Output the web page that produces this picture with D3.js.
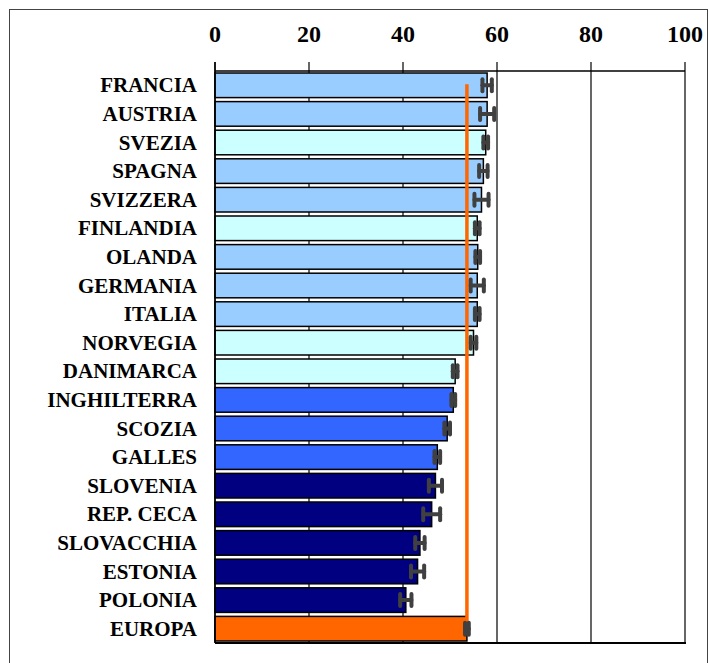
<!DOCTYPE html>
<html>
<head>
<meta charset="utf-8">
<script src="https://cdn.jsdelivr.net/npm/d3@7"></script>
<style>
  html, body { margin: 0; padding: 0; background: #fff; }
  svg { display: block; }
</style>
</head>
<body>
<svg id="chart" width="709" height="663"></svg>
<script>
const categories = ["FRANCIA","AUSTRIA","SVEZIA","SPAGNA","SVIZZERA","FINLANDIA","OLANDA","GERMANIA","ITALIA","NORVEGIA","DANIMARCA","INGHILTERRA","SCOZIA","GALLES","SLOVENIA","REP. CECA","SLOVACCHIA","ESTONIA","POLONIA","EUROPA"];
const values = [57.9,57.9,57.6,57.1,56.7,55.8,55.9,55.8,55.8,55.0,51.1,50.7,49.4,47.3,46.9,46.1,43.6,43.1,40.6,53.6];
const errors = [1.0,1.5,0.5,0.9,1.5,0.5,0.5,1.4,0.5,0.6,0.5,0.4,0.6,0.6,1.4,1.8,1.0,1.4,1.2,0.4];
const groups = ["a","a","b","a","a","b","a","a","a","b","b","c","c","c","d","d","d","d","d","e"];
const groupColors = {a:"#99CCFF", b:"#CCFFFF", c:"#3366FF", d:"#000080", e:"#FF6600"};
const tickValues = [0,20,40,60,80,100];
const europeValue = values[categories.indexOf("EUROPA")];

(function(){
const svg = d3.select("#chart");
const pLeft = 215, pRight = 685, pTop = 71, pBottom = 643;

// outer frame
svg.append("rect").attr("x",9.5).attr("y",9.5).attr("width",698).attr("height",680)
  .attr("fill","none").attr("stroke","#444").attr("stroke-width",1);

const x = d3.scaleLinear().domain([0,100]).range([pLeft,pRight]);
const y = d3.scaleBand().domain(categories).range([pTop,pBottom]).paddingInner(0.14).paddingOuter(0.07);

// gridlines
svg.append("g").selectAll("line").data(tickValues).join("line")
  .attr("x1",d=>x(d)).attr("x2",d=>x(d)).attr("y1",pTop-9).attr("y2",pBottom)
  .attr("stroke","#000").attr("stroke-width",1.2);

// top axis labels
svg.append("g").selectAll("text").data(tickValues).join("text")
  .attr("x",d=>x(d)).attr("y",42).attr("text-anchor","middle")
  .attr("font-family","'Liberation Serif','Times New Roman',serif")
  .attr("font-weight","bold").attr("font-size",24).text(d=>d);

// top and bottom lines
svg.append("line").attr("x1",pLeft).attr("x2",pRight).attr("y1",pTop).attr("y2",pTop)
  .attr("stroke","#000").attr("stroke-width",1.5);
svg.append("line").attr("x1",pLeft).attr("x2",pRight+1).attr("y1",pBottom).attr("y2",pBottom)
  .attr("stroke","#000").attr("stroke-width",2);

// bars
svg.append("g").selectAll("rect").data(categories).join("rect")
  .attr("x",x(0)).attr("y",d=>y(d))
  .attr("width",(d,i)=>x(values[i])-x(0)).attr("height",y.bandwidth())
  .attr("fill",(d,i)=>groupColors[groups[i]])
  .attr("stroke","#000").attr("stroke-width",1.5);

// left axis line
svg.append("line").attr("x1",pLeft).attr("x2",pLeft).attr("y1",pTop-9).attr("y2",pBottom)
  .attr("stroke","#000").attr("stroke-width",1.5);

// europe average line
svg.append("line")
  .attr("x1",x(europeValue)).attr("x2",x(europeValue))
  .attr("y1",y(categories[0])+y.bandwidth()/2-1)
  .attr("y2",y("EUROPA")+y.bandwidth()/2)
  .attr("stroke","#FF6600").attr("stroke-width",3.5);

// error bars
const eg = svg.append("g").attr("stroke","#404040").attr("stroke-width",4).attr("stroke-linecap","round");
categories.forEach((c,i)=>{
  const cy = y(c)+y.bandwidth()/2;
  const x1 = x(values[i]-errors[i]), x2 = x(values[i]+errors[i]);
  eg.append("line").attr("x1",x1).attr("x2",x2).attr("y1",cy).attr("y2",cy);
  eg.append("line").attr("x1",x1).attr("x2",x1).attr("y1",cy-6).attr("y2",cy+6);
  eg.append("line").attr("x1",x2).attr("x2",x2).attr("y1",cy-6).attr("y2",cy+6);
});

// category labels
svg.append("g").selectAll("text").data(categories).join("text")
  .attr("x",197).attr("y",d=>y(d)+y.bandwidth()/2+7)
  .attr("text-anchor","end")
  .attr("font-family","'Liberation Serif','Times New Roman',serif")
  .attr("font-weight","bold").attr("font-size",21).text(d=>d);
})();
</script>
</body>
</html>
